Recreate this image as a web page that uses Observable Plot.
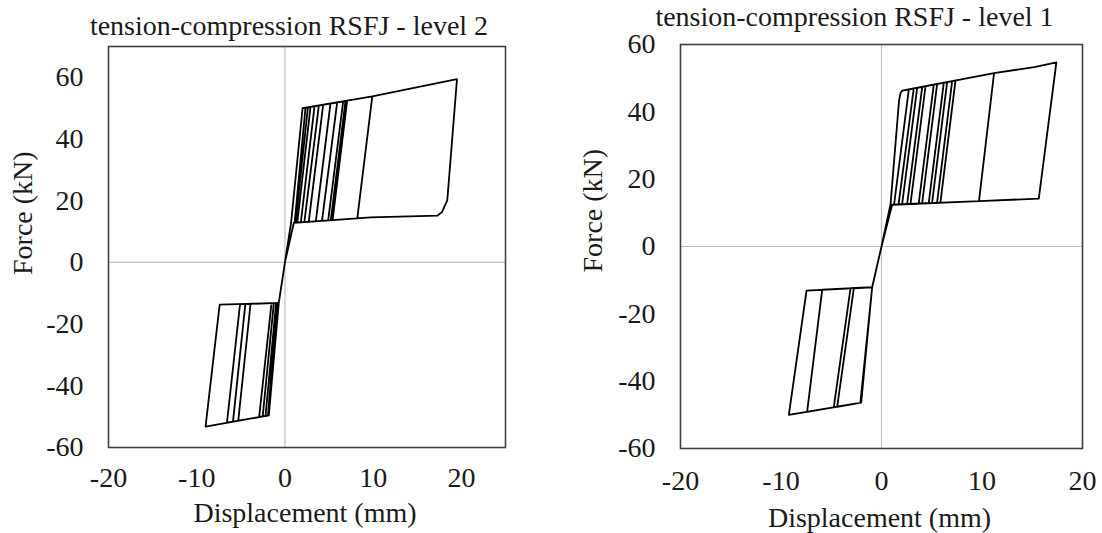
<!DOCTYPE html>
<html>
<head>
<meta charset="utf-8">
<script src="https://cdn.jsdelivr.net/npm/d3@7"></script>
<script src="https://cdn.jsdelivr.net/npm/@observablehq/plot@0.6"></script>
<style>
  html, body { margin: 0; padding: 0; background: #fff; }
  #wrap { position: relative; width: 1102px; height: 533px; background: #fff; }
  #wrap svg { position: absolute; top: 0; display: block; }
</style>
</head>
<body>
<div id="wrap"></div>
<script>
// ---- Titles and labels ----
const titleLevel2 = "tension-compression RSFJ - level 2";
const titleLevel1 = "tension-compression RSFJ - level 1";
const xLabel = "Displacement (mm)";
const yLabel = "Force (kN)";

// ---- Tick values ----
const xTicks = [-20, -10, 0, 10, 20];
const yTicks = [-60, -40, -20, 0, 20, 40, 60];

// ---- Level 2 hysteresis path (displacement mm, force kN) ----
const level2Disp = [
  0, 0.7, 2.0, 2.33, 1.1, 1.0, 0, -0.7, -1.83, -1.92, -0.9, -0.7, 0,
  0.7, 2.0, 2.6, 1.2, 1.0, 0, -0.7, -1.83, -2.2, -1.0, -0.7, 0,
  0.7, 2.0, 2.9, 1.4, 1.0, 0, -0.7, -1.83, -2.52, -1.26, -0.7, 0,
  0.7, 2.0, 3.35, 1.8, 1.0, 0, -0.7, -1.83, -2.92, -1.52, -0.7, 0,
  0.7, 2.0, 3.84, 2.2, 1.0, 0,
  0.7, 2.0, 4.33, 2.7, 1.0, 0, -0.7, -1.83, -5.29, -3.9, -0.7, 0,
  0.7, 2.0, 5.16, 3.5, 1.0, 0, -0.7, -1.83, -5.89, -4.49, -0.7, 0,
  0.7, 2.0, 5.92, 4.2, 1.0, 0, -0.7, -1.83, -6.57, -5.09, -0.7, 0,
  0.7, 2.0, 6.6, 4.9, 1.0, 0,
  0.7, 2.0, 6.86, 5.2, 1.0, 0,
  0.7, 2.0, 7.05, 5.4, 1.0, 0, -0.7, -1.83, -9.0, -7.4, -0.7, 0,
  0.7, 2.0, 9.9, 8.2, 1.0, 0,
  0.7, 2.0, 9.9, 19.5, 18.4, 17.8, 17.3, 9.7, 1.0, 0
];
const level2Force = [
  0, 13, 50, 50.1, 12.9, 12.8, 0, -13.1, -49.6, -49.6, -13.1, -13.1, 0,
  13, 50, 50.2, 12.9, 12.8, 0, -13.1, -49.6, -49.8, -13.2, -13.1, 0,
  13, 50, 50.4, 12.9, 12.8, 0, -13.1, -49.6, -49.9, -13.2, -13.1, 0,
  13, 50, 50.6, 13.0, 12.8, 0, -13.1, -49.6, -50.1, -13.2, -13.1, 0,
  13, 50, 50.8, 13.1, 12.8, 0,
  13, 50, 51.1, 13.2, 12.8, 0, -13.1, -49.6, -51.3, -13.4, -13.1, 0,
  13, 50, 51.5, 13.3, 12.8, 0, -13.1, -49.6, -51.6, -13.5, -13.1, 0,
  13, 50, 51.9, 13.5, 12.8, 0, -13.1, -49.6, -51.9, -13.5, -13.1, 0,
  13, 50, 52.2, 13.6, 12.8, 0,
  13, 50, 52.3, 13.7, 12.8, 0,
  13, 50, 52.4, 13.7, 12.8, 0, -13.1, -49.6, -53.2, -13.7, -13.1, 0,
  13, 50, 53.8, 14.3, 12.8, 0,
  13, 50, 53.8, 59.4, 20.1, 16.3, 15.2, 14.6, 12.8, 0
];

// ---- Level 1 hysteresis path (displacement mm, force kN) ----
const level1Disp = [
  0, 0.9, 1.75, 1.9, 2.06, 2.72, 1.25, 1.06, 0, -0.93, -2.02, -2.1, -0.93, 0,
  0.9, 1.75, 1.9, 2.06, 3.21, 1.7, 1.06, 0,
  0.9, 1.75, 1.9, 2.06, 3.55, 2.05, 1.06, 0,
  0.9, 1.75, 1.9, 2.06, 4.05, 2.55, 1.06, 0, -0.93, -2.02, -4.41, -2.75, -0.93, 0,
  0.9, 1.75, 1.9, 2.06, 4.38, 2.88, 1.06, 0,
  0.9, 1.75, 1.9, 2.06, 5.2, 3.7, 1.06, 0, -0.93, -2.02, -4.75, -3.08, -0.93, 0,
  0.9, 1.75, 1.9, 2.06, 5.54, 4.04, 1.06, 0,
  0.9, 1.75, 1.9, 2.06, 6.2, 4.7, 1.06, 0,
  0.9, 1.75, 1.9, 2.06, 6.53, 5.03, 1.06, 0,
  0.9, 1.75, 1.9, 2.06, 7.03, 5.53, 1.06, 0, -0.93, -2.02, -7.4, -5.9, -0.93, 0,
  0.9, 1.75, 1.9, 2.06, 7.36, 5.86, 1.06, 0,
  0.9, 1.75, 1.9, 2.06, 11.2, 9.7, 1.06, 0, -0.93, -2.02, -9.22, -7.46, -0.93, 0,
  0.9, 1.75, 1.9, 2.06, 11.2, 15.2, 17.4, 15.65, 9.7, 1.06, 0
];
const level1Force = [
  0, 12.6, 43.5, 45.6, 46.3, 46.7, 12.4, 12.4, 0, -12.1, -46.4, -46.4, -12.1, 0,
  12.6, 43.5, 45.6, 46.3, 47.0, 12.5, 12.4, 0,
  12.6, 43.5, 45.6, 46.3, 47.1, 12.5, 12.4, 0,
  12.6, 43.5, 45.6, 46.3, 47.4, 12.6, 12.4, 0, -12.1, -46.4, -47.6, -12.4, -12.1, 0,
  12.6, 43.5, 45.6, 46.3, 47.6, 12.6, 12.4, 0,
  12.6, 43.5, 45.6, 46.3, 48.1, 12.7, 12.4, 0, -12.1, -46.4, -47.8, -12.4, -12.1, 0,
  12.6, 43.5, 45.6, 46.3, 48.3, 12.8, 12.4, 0,
  12.6, 43.5, 45.6, 46.3, 48.7, 12.9, 12.4, 0,
  12.6, 43.5, 45.6, 46.3, 48.8, 12.9, 12.4, 0,
  12.6, 43.5, 45.6, 46.3, 49.1, 13.0, 12.4, 0, -12.1, -46.4, -49.1, -12.8, -12.1, 0,
  12.6, 43.5, 45.6, 46.3, 49.3, 13.0, 12.4, 0,
  12.6, 43.5, 45.6, 46.3, 51.5, 13.5, 12.4, 0, -12.1, -46.4, -50.0, -13.1, -12.1, 0,
  12.6, 43.5, 45.6, 46.3, 51.5, 53.3, 54.7, 14.2, 13.5, 12.4, 0
];

const FONT = "'Liberation Serif', 'Times New Roman', serif";
const TEXT = "#1a1a1a";

function panel(cfg) {
  const idx = cfg.disp.map((d, i) => i);
  return Plot.plot({
    width: 551,
    height: 533,
    marginLeft: cfg.m[0],
    marginRight: cfg.m[1],
    marginTop: cfg.m[2],
    marginBottom: cfg.m[3],
    style: { fontFamily: FONT, fontSize: "28px", color: TEXT, background: "transparent", overflow: "visible" },
    x: { domain: cfg.xDomain },
    y: { domain: cfg.yDomain },
    marks: [
      Plot.ruleX([0], { stroke: "#bfbfbf", strokeWidth: 1.2 }),
      Plot.ruleY([0], { stroke: "#bfbfbf", strokeWidth: 1.2 }),
      Plot.line(idx, { x: i => cfg.disp[i], y: i => cfg.force[i], stroke: "#000", strokeWidth: 1.8, strokeLinejoin: "round" }),
      Plot.frame({ stroke: "#404040", strokeWidth: 1.6 }),
      Plot.axisX({ ticks: xTicks, tickSize: 0, tickPadding: cfg.xPad, tickFormat: d => `${d}`, label: null, fontSize: 28, fill: TEXT }),
      Plot.axisY({ ticks: yTicks, tickSize: 0, tickPadding: 25, tickFormat: d => `${d}`, label: null, fontSize: 28, fill: TEXT }),
      Plot.text([cfg.title], { text: d => d, frameAnchor: "top", dx: cfg.titleOff[0], dy: cfg.titleOff[1], lineAnchor: "middle", fontSize: 28, fill: TEXT }),
      Plot.text([xLabel], { text: d => d, frameAnchor: "bottom", dx: cfg.xLabOff[0], dy: cfg.xLabOff[1], lineAnchor: "middle", fontSize: 28, fill: TEXT }),
      Plot.text([yLabel], { text: d => d, frameAnchor: "left", rotate: -90, dx: cfg.yLabOff[0], dy: cfg.yLabOff[1], lineAnchor: "middle", fontSize: 28, fill: TEXT })
    ]
  });
}

const left = panel({
  disp: level2Disp, force: level2Force,
  m: [108, 46, 46, 86],
  xDomain: [-20, 25], yDomain: [-60, 70],
  xPad: 20,
  title: titleLevel2, titleOff: [-18, -20],
  xLabOff: [-2, 66], yLabOff: [-85, 28]
});
const right = panel({
  disp: level1Disp, force: level1Force,
  m: [129, 20, 44, 85],
  xDomain: [-20, 20], yDomain: [-60, 60],
  xPad: 22,
  title: titleLevel1, titleOff: [-27, -27],
  xLabOff: [-2, 70], yLabOff: [-87, 26]
});
left.style.left = "0px";
right.style.left = "551px";
const wrap = document.getElementById("wrap");
wrap.appendChild(left);
wrap.appendChild(right);
</script>
</body>
</html>
